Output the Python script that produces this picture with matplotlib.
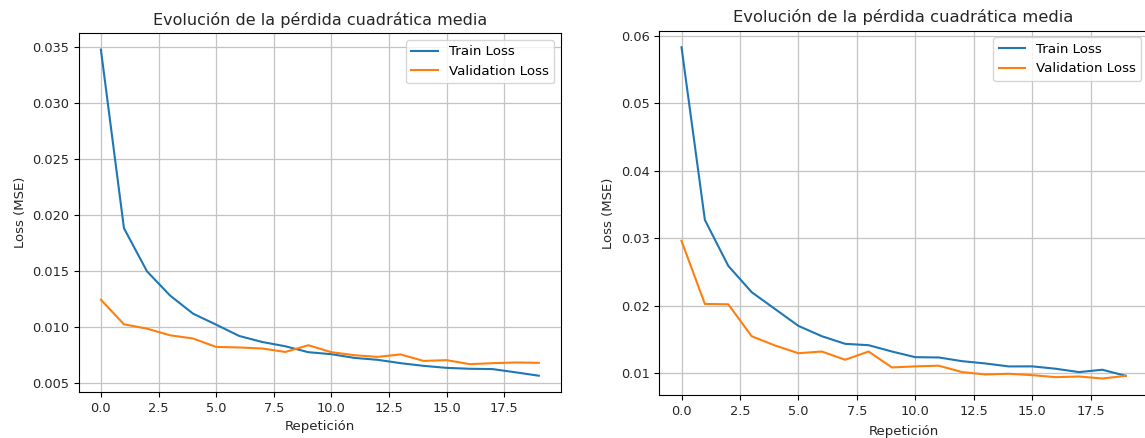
import numpy as np
import matplotlib
matplotlib.use('Agg')
import matplotlib.pyplot as plt

# repetitions (epochs)
epochs = np.arange(20)

# left model
train_loss_a = [0.0348, 0.01885, 0.0150, 0.01284, 0.01122, 0.01024, 0.00923, 0.00869, 0.00831, 0.00778,
                0.0076, 0.00727, 0.0071, 0.0068, 0.00656, 0.00638, 0.0063, 0.00627, 0.00598, 0.00568]
val_loss_a = [0.01246, 0.01027, 0.00988, 0.00929, 0.0090, 0.00825, 0.0082, 0.00811, 0.0078, 0.0084,
              0.00778, 0.00751, 0.00736, 0.00758, 0.0070, 0.00707, 0.00671, 0.0068, 0.00686, 0.00683]

# right model
train_loss_b = [0.0583, 0.0327, 0.0259, 0.0220, 0.0195, 0.0170, 0.01547, 0.01434, 0.01414, 0.0132,
                0.01236, 0.01232, 0.01177, 0.01143, 0.01099, 0.0110, 0.01065, 0.01015, 0.0105, 0.0096]
val_loss_b = [0.0296, 0.02025, 0.0202, 0.01547, 0.01409, 0.01295, 0.0132, 0.01198, 0.0132, 0.01084,
              0.0110, 0.0111, 0.01015, 0.0098, 0.0099, 0.0097, 0.0094, 0.0095, 0.0092, 0.0096]

title = 'Evolución de la pérdida cuadrática media'

fig = plt.figure(figsize=(11.45, 4.38), dpi=100)
ax1 = fig.add_axes([0.069, 0.105, 0.4207, 0.819])
ax2 = fig.add_axes([0.5758, 0.098, 0.4268, 0.832])


def draw(ax, train, val, title_size, xpad):
    ax.plot(epochs, train, label='Train Loss', lw=1.5)
    ax.plot(epochs, val, label='Validation Loss', lw=1.5)
    ax.set_title(title, fontsize=title_size, color='#262626')
    ax.set_xlabel('Repetición', fontsize=9.5, color='#262626', labelpad=xpad)
    ax.set_ylabel('Loss (MSE)', fontsize=9.5, color='#262626')
    ax.tick_params(labelsize=9.3, labelcolor='#262626')
    ax.grid(True, color='#c4c4c4', lw=0.9)
    ax.legend(fontsize=9.6, loc='upper right')


draw(ax1, train_loss_a, val_loss_a, 11.5, 3.5)
draw(ax2, train_loss_b, val_loss_b, 11.8, 5)
ax1.set_yticks([0.005, 0.010, 0.015, 0.020, 0.025, 0.030, 0.035])

fig.savefig('out.png', dpi=100)
